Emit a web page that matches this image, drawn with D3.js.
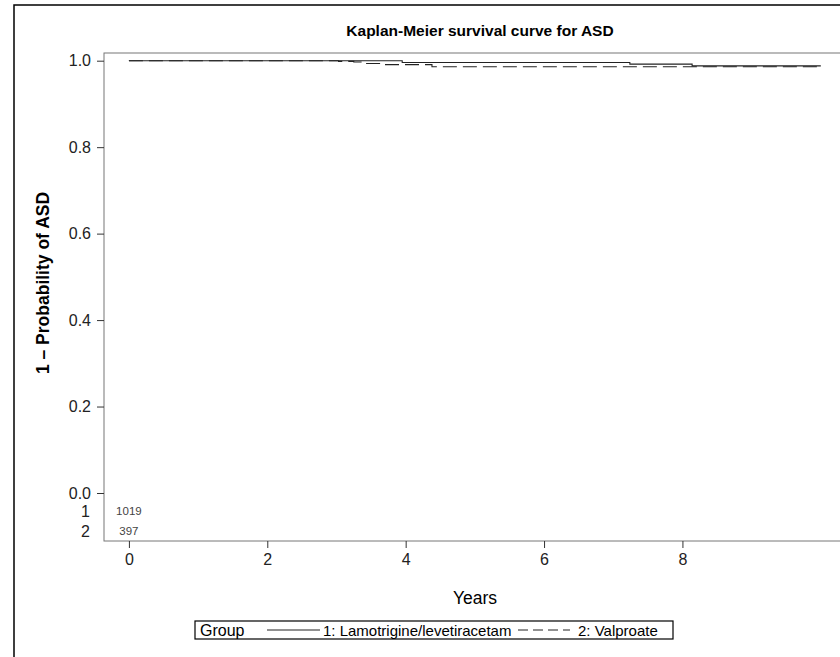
<!DOCTYPE html>
<html>
<head>
<meta charset="utf-8">
<script src="https://cdn.jsdelivr.net/npm/d3@7"></script>
<style>
  body { margin: 0; background: #fff; }
  text { font-family: Arial, "Liberation Sans", sans-serif; }
</style>
</head>
<body>
<div id="chart"></div>
<script>
// KM step data
const groups = ['1: Lamotrigine/levetiracetam', '2: Valproate'];
const atRisk = [1019, 397];
const timesG1 = [0, 3.95, 7.24, 8.14, 10.0];
const survG1 = [1.0, 0.996, 0.992, 0.988, 0.988];
const timesG2 = [0, 3.03, 3.25, 3.4, 3.65, 4.38, 10.0];
const survG2 = [1.0, 0.9985, 0.997, 0.9935, 0.991, 0.986, 0.986];
const xTicks = [0, 2, 4, 6, 8];
const yTicks = [0.0, 0.2, 0.4, 0.6, 0.8, 1.0];

document.addEventListener('DOMContentLoaded', () => {
    const svg = d3.select('#chart')
        .append('svg')
        .attr('width', 840)
        .attr('height', 657);

    // outer frame
    svg.append('rect')
        .attr('x', 14).attr('y', 5)
        .attr('width', 900).attr('height', 700)
        .attr('fill', 'none')
        .attr('stroke', '#000')
        .attr('stroke-width', 1.5);

    const left = 104, top = 53, bottom = 541;

    const xScale = d3.scaleLinear()
        .domain([-0.36, 11])
        .range([left, left + 786]);
    const yScale = d3.scaleLinear()
        .domain([0, 1])
        .range([493, 60.7]);

    // plot box
    svg.append('rect')
        .attr('x', left).attr('y', top)
        .attr('width', 900).attr('height', bottom - top)
        .attr('fill', 'none')
        .attr('stroke', '#777')
        .attr('stroke-width', 1);

    const yAxis = svg.append('g')
        .attr('transform', `translate(${left}, 0)`)
        .call(d3.axisLeft(yScale).tickValues(yTicks).tickFormat(d3.format('.1f')).tickSize(7).tickPadding(6));
    yAxis.select('.domain').remove();
    yAxis.selectAll('text').style('font-size', '16px').attr('fill', '#222');
    yAxis.selectAll('line').attr('stroke', '#333');

    const xAxis = svg.append('g')
        .attr('transform', `translate(0, ${bottom})`)
        .call(d3.axisBottom(xScale).tickValues(xTicks).tickSize(7).tickPadding(6));
    xAxis.select('.domain').remove();
    xAxis.selectAll('text').style('font-size', '16px').attr('fill', '#222');
    xAxis.selectAll('line').attr('stroke', '#333');

    // curves
    const line = d3.line()
        .x(d => xScale(d[0]))
        .y(d => yScale(d[1]))
        .curve(d3.curveStepAfter);

    const series = [
        { pts: d3.zip(timesG1, survG1), dash: null },
        { pts: d3.zip(timesG2, survG2), dash: '14,6' }
    ];
    series.forEach(s => {
        svg.append('path')
            .datum(s.pts)
            .attr('d', line)
            .attr('fill', 'none')
            .attr('stroke', '#222')
            .attr('stroke-width', 1.1)
            .attr('stroke-dasharray', s.dash);
    });

    // numbers at risk
    const riskY = [511, 531];
    atRisk.forEach((n, i) => {
        svg.append('text')
            .attr('x', 90).attr('y', riskY[i] + 6)
            .attr('text-anchor', 'end')
            .attr('font-size', 16)
            .attr('fill', '#222')
            .text(i + 1);
        svg.append('text')
            .attr('x', xScale(0)).attr('y', riskY[i] + 4)
            .attr('text-anchor', 'middle')
            .attr('font-size', 11.5)
            .attr('fill', '#444')
            .text(n);
    });

    // titles
    svg.append('text')
        .attr('x', 480).attr('y', 36)
        .attr('text-anchor', 'middle')
        .attr('font-size', 15.5)
        .attr('font-weight', 'bold')
        .text('Kaplan-Meier survival curve for ASD');

    svg.append('text')
        .attr('transform', 'translate(49, 283) rotate(-90)')
        .attr('text-anchor', 'middle')
        .attr('font-size', 17.5)
        .attr('font-weight', 'bold')
        .text('1 \u2013 Probability of ASD');

    svg.append('text')
        .attr('x', 475).attr('y', 604)
        .attr('text-anchor', 'middle')
        .attr('font-size', 17.5)
        .text('Years');

    // legend
    const legend = svg.append('g');
    legend.append('rect')
        .attr('x', 195).attr('y', 621)
        .attr('width', 478).attr('height', 18)
        .attr('fill', 'none')
        .attr('stroke', '#000')
        .attr('stroke-width', 1.2);
    legend.append('text')
        .attr('x', 200).attr('y', 636)
        .attr('font-size', 16)
        .text('Group');
    const legX = [[267, 320, 323], [518, 570, 578]];
    groups.forEach((g, i) => {
        legend.append('line')
            .attr('x1', legX[i][0]).attr('x2', legX[i][1])
            .attr('y1', 630).attr('y2', 630)
            .attr('stroke', '#222')
            .attr('stroke-dasharray', i ? '10,5' : null);
        legend.append('text')
            .attr('x', legX[i][2]).attr('y', 636)
            .attr('font-size', 15)
            .text(g);
    });
});
</script>
</body>
</html>
